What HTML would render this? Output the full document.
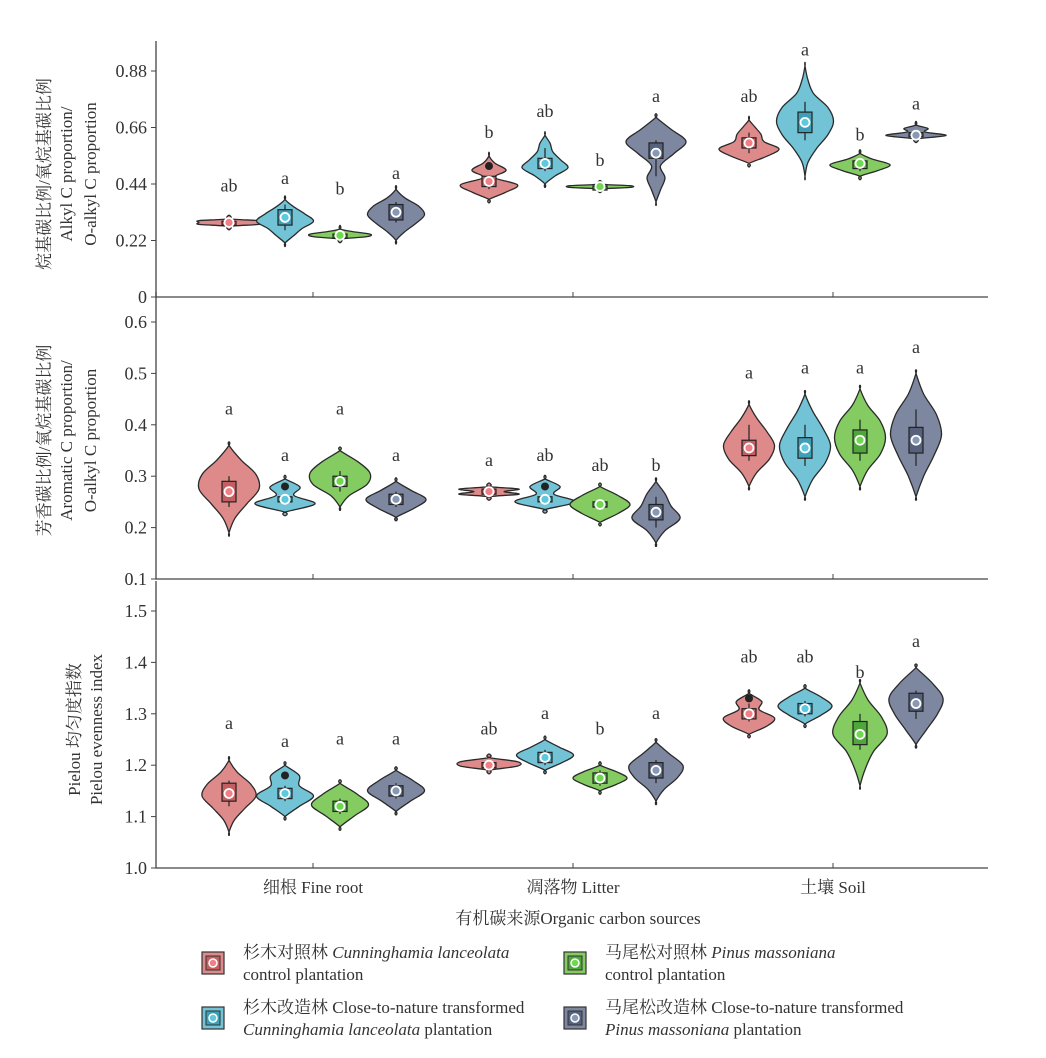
<!DOCTYPE html>
<html><head><meta charset="utf-8">
<style>
body{margin:0;background:#fff}
svg text{font-family:"Liberation Serif","Noto Serif CJK SC",serif;fill:#333}
</style></head><body>
<svg id="c" width="1046" height="1053" viewBox="0 0 1046 1053" xmlns="http://www.w3.org/2000/svg"></svg>
<script>
const categories=["细根 Fine root","凋落物 Litter","土壤 Soil"];
const groups=["C","CT","P","PT"];
// panel 1: Alkyl/O-alkyl ; each entry: [vmin,vmax,q1,med,q3,wlo,whi,dot]
const alkylStats=[
 [[0.275,0.305,0.285,0.29,0.295,0.285,0.295,null],[0.21,0.38,0.28,0.31,0.34,0.26,0.36,null],[0.225,0.265,0.235,0.24,0.245,0.235,0.25,null],[0.22,0.42,0.30,0.33,0.36,0.29,0.37,null]],
 [[0.38,0.55,0.43,0.45,0.47,0.42,0.47,0.51],[0.44,0.63,0.50,0.52,0.54,0.49,0.58,null],[0.42,0.44,0.428,0.43,0.432,0.428,0.432,null],[0.37,0.70,0.54,0.56,0.60,0.47,0.61,null]],
 [[0.52,0.69,0.58,0.60,0.62,0.56,0.64,null],[0.47,0.90,0.64,0.68,0.72,0.61,0.76,null],[0.47,0.56,0.50,0.52,0.53,0.49,0.53,null],[0.615,0.67,0.625,0.63,0.64,0.62,0.65,null]]];
const alkylDens=[
 [[1,1,1],[0.3,0.6,1,0.7,0.3],[0.9,1,0.4],[0.3,0.7,1,0.8,0.3]],
 [[0.6,1,0.2,0.6,0.2],[0.4,0.9,0.6,0.3,0.2],[1,1],[0.15,0.3,0.15,0.6,1,0.5]],
 [[0.6,1,0.5,0.4,0.2],[0.1,0.4,0.8,1,0.8,0.3,0.1],[0.6,1,0.4],[1,0.3,0.4]]];
const alkylWidth=[[1,0.95,1,0.95],[0.95,0.85,1,1],[1,0.95,1,1]];
const alkylLetters=[["ab","a","b","a"],["b","ab","b","a"],["ab","a","b","a"]];
const alkylLetterY=[[0.41,0.44,0.40,0.46],[0.62,0.70,0.51,0.76],[0.76,0.94,0.61,0.73]];
// panel 2: Aromatic/O-alkyl
const aromStats=[
 [[0.19,0.36,0.25,0.27,0.29,0.24,0.30,null],[0.23,0.295,0.25,0.255,0.26,0.25,0.26,0.28],[0.24,0.35,0.28,0.29,0.30,0.27,0.31,null],[0.22,0.29,0.245,0.255,0.265,0.24,0.27,null]],
 [[0.26,0.28,0.265,0.27,0.275,0.26,0.28,null],[0.235,0.295,0.25,0.255,0.26,0.25,0.26,0.28],[0.21,0.28,0.24,0.245,0.25,0.235,0.255,null],[0.17,0.29,0.215,0.23,0.245,0.20,0.26,null]],
 [[0.28,0.44,0.34,0.355,0.37,0.33,0.40,null],[0.26,0.46,0.335,0.355,0.375,0.32,0.40,null],[0.28,0.47,0.345,0.37,0.39,0.33,0.41,null],[0.26,0.50,0.345,0.37,0.395,0.32,0.43,null]]];
const aromDens=[
 [[0.2,0.6,1,0.9,0.4],[1,0.3,0.5],[0.3,0.9,1,0.6],[0.6,1,0.5]],
 [[1,0.5,1],[1,0.3,0.5],[0.6,1,0.6],[0.3,0.8,0.5,0.3]],
 [[0.3,0.8,1,0.7,0.3],[0.3,0.8,1,0.7,0.3],[0.3,0.8,1,0.8,0.3],[0.3,0.7,1,0.8,0.3]]];
const aromWidth=[[1,1,1,1],[1,1,1,1],[0.85,0.85,0.85,0.85]];
const aromLetters=[["a","a","a","a"],["a","ab","ab","b"],["a","a","a","a"]];
const aromLetterY=[[0.42,0.33,0.42,0.33],[0.32,0.33,0.31,0.31],[0.49,0.50,0.50,0.54]];
// panel 3: Pielou
const pielouStats=[
 [[1.07,1.21,1.13,1.145,1.165,1.12,1.17,null],[1.10,1.20,1.135,1.145,1.155,1.13,1.16,1.18],[1.08,1.165,1.11,1.12,1.13,1.105,1.135,null],[1.11,1.19,1.14,1.15,1.16,1.135,1.165,null]],
 [[1.19,1.215,1.195,1.20,1.205,1.195,1.205,null],[1.19,1.25,1.205,1.215,1.225,1.20,1.23,null],[1.15,1.20,1.165,1.175,1.185,1.16,1.19,null],[1.13,1.245,1.175,1.19,1.205,1.165,1.21,null]],
 [[1.26,1.34,1.29,1.30,1.31,1.285,1.32,1.33],[1.28,1.35,1.30,1.31,1.32,1.295,1.325,null],[1.16,1.36,1.24,1.26,1.285,1.23,1.30,null],[1.24,1.39,1.305,1.32,1.34,1.29,1.345,null]]];
const pielouDens=[
 [[0.2,0.6,1,0.8,0.3],[0.5,1,0.5,0.5],[0.5,1,0.6],[0.5,1,0.6]],
 [[1,1],[0.6,1,0.5],[0.6,1,0.6],[0.3,0.8,1,0.5]],
 [[0.7,1,0.4,0.5],[0.6,1,0.6],[0.2,0.5,1,0.8,0.3],[0.4,0.8,1,0.6]]];
const pielouWidth=[[0.9,0.95,0.95,0.95],[0.95,0.95,0.9,0.9],[0.85,0.9,0.9,0.9]];
const pielouLetters=[["a","a","a","a"],["ab","a","b","a"],["ab","ab","b","a"]];
const pielouLetterY=[[1.27,1.235,1.24,1.24],[1.26,1.29,1.26,1.29],[1.40,1.40,1.37,1.43]];
const alkylTicks=["0","0.22","0.44","0.66","0.88"];
const aromTicks=["0.1","0.2","0.3","0.4","0.5","0.6"];
const pielouTicks=["1.0","1.1","1.2","1.3","1.4","1.5"];

const fills=["#de8a8a","#72c3d6","#84cc62","#7d88a0"];
const boxF=["#c45e62","#3f9fb7","#4fa73c","#56627b"];
const dotF=["#f07f86","#5ec8df","#6ed94e","#8899b5"];
const NS="http://www.w3.org/2000/svg";
const svg=document.getElementById('c');
function mk(t,a,p){const e=document.createElementNS(NS,t);for(const k in a)e.setAttribute(k,a[k]);(p||svg).appendChild(e);return e;}
const X0=156,X1=988,catW=260,firstCat=313,offs=[-84,-28,27,83],HW=30;
function xCat(i){return firstCat+i*catW;}
function xV(i,j){return xCat(i)+offs[j];}

function smoothPath(pts){let d="M"+pts[0][0]+","+pts[0][1];for(let i=0;i<pts.length-1;i++){const p0=pts[Math.max(0,i-1)],p1=pts[i],p2=pts[i+1],p3=pts[Math.min(pts.length-1,i+2)];const c1=[p1[0]+(p2[0]-p0[0])/6,p1[1]+(p2[1]-p0[1])/6],c2=[p2[0]-(p3[0]-p1[0])/6,p2[1]-(p3[1]-p1[1])/6];d+="C"+c1[0].toFixed(1)+","+c1[1].toFixed(1)+" "+c2[0].toFixed(1)+","+c2[1].toFixed(1)+" "+p2[0].toFixed(1)+","+p2[1].toFixed(1);}return d;}

function panel(name,top,bot,vlo,vhi,ticks,tickVals,stats,dens,widths,letters,letY,ylabel,showX){
 const g=mk('g',{});
 
 const y=v=>bot-(v-vlo)/(vhi-vlo)*(bot-top);
 const ax=mk('path',{d:`M${X0},${top-30} V${bot} H${X1}`,stroke:'#444','stroke-width':1.3,fill:'none'},g);
 
 ticks.forEach((t,k)=>{const yy=y(tickVals[k]);
  mk('line',{x1:X0-5,x2:X0,y1:yy,y2:yy,stroke:'#444'},g);
  const tx=mk('text',{x:X0-9,y:yy+6,'text-anchor':'end','font-size':18},g);tx.textContent=t;
  });
 categories.forEach((c,i)=>{mk('line',{x1:xCat(i),x2:xCat(i),y1:bot-5,y2:bot,stroke:'#444'},g);
  if(showX){const tx=mk('text',{x:xCat(i),y:bot+25,'text-anchor':'middle','font-size':17},g);tx.textContent=c;
   }});
 stats.forEach((row,i)=>row.forEach((s,j)=>{
  const [vmin,vmax,q1,med,q3,wl,wh,dot]=s;const cx=xV(i,j);
  const d=[0].concat(dens[i][j]).concat([0]);const n=d.length-1;
  const L=[],R=[];
  d.forEach((w,k)=>{const v=vmin+(vmax-vmin)*k/n;const hw=w*HW*widths[i][j];L.push([cx-hw,y(v)]);R.push([cx+hw,y(v)]);});
  const tipB=[cx,y(vmin)+4],tipT=[cx,y(vmax)-4];
  const right=[tipB].concat(R).concat([tipT]);const left=[tipT].concat(L.slice().reverse()).concat([tipB]);
  const p=mk('path',{d:smoothPath(right)+smoothPath(left).replace(/^M[^C]*/,'')+'Z',fill:fills[j],stroke:'#2a2a2a','stroke-width':1.3},g);
  
  mk('line',{x1:cx,x2:cx,y1:y(wl),y2:y(wh),stroke:'#222','stroke-width':1.2},g);
  const bh=Math.max(y(q1)-y(q3),4);
  const b=mk('rect',{x:cx-7,y:y(q3),width:14,height:bh,fill:boxF[j],stroke:'#222','stroke-width':1.2},g);
  
  if(dot!==null){const dd=mk('circle',{cx:cx,cy:y(dot),r:4,fill:'#222'},g);}
  const m=mk('circle',{cx:cx,cy:y(med),r:4.5,fill:dotF[j],stroke:'#fff','stroke-width':1.8},g);
  
  const lt=mk('text',{x:cx,y:y(letY[i][j]),'text-anchor':'middle','font-size':18},g);lt.textContent=letters[i][j];
  
 }));
 const cy=(top+bot)/2-10;
 ylabel.forEach((l,k)=>{const xx=ylabel.length===3?[50,72,96][k]:[80,102][k];
  const t=mk('text',{x:xx,y:cy,'text-anchor':'middle','font-size':17,transform:`rotate(-90 ${xx} ${cy})`},g);t.textContent=l;
  });
}
panel('panel-alkyl',71,297,0,0.88,alkylTicks,[0,0.22,0.44,0.66,0.88],alkylStats,alkylDens,alkylWidth,alkylLetters,alkylLetterY,["烷基碳比例/氧烷基碳比例","Alkyl C proportion/","O-alkyl C proportion"],false);
panel('panel-aromatic',322,579,0.1,0.6,aromTicks,[0.1,0.2,0.3,0.4,0.5,0.6],aromStats,aromDens,aromWidth,aromLetters,aromLetterY,["芳香碳比例/氧烷基碳比例","Aromatic C proportion/","O-alkyl C proportion"],false);
panel('panel-pielou',611,868,1.0,1.5,pielouTicks,[1.0,1.1,1.2,1.3,1.4,1.5],pielouStats,pielouDens,pielouWidth,pielouLetters,pielouLetterY,["Pielou 均匀度指数","Pielou evenness index"],true);
const xt=mk('text',{x:578,y:924,'text-anchor':'middle','font-size':17});xt.textContent="有机碳来源Organic carbon sources";

const leg=[[213,963,"杉木对照林 <tspan font-style='italic'>Cunninghamia lanceolata</tspan>","control plantation"],
 [575,963,"马尾松对照林 <tspan font-style='italic'>Pinus massoniana</tspan>","control  plantation"],
 [213,1018,"杉木改造林 Close-to-nature transformed","<tspan font-style='italic'>Cunninghamia lanceolata</tspan> plantation"],
 [575,1018,"马尾松改造林 Close-to-nature transformed","<tspan font-style='italic'>Pinus massoniana</tspan> plantation"]];
const legOrder=[0,2,1,3];
leg.forEach((l,k)=>{const j=legOrder[k];const g=mk('g',{});
 
 mk('rect',{x:l[0]-11,y:l[1]-11,width:22,height:22,fill:fills[j],stroke:'#333','stroke-width':1.2},g);
 mk('rect',{x:l[0]-7,y:l[1]-7,width:14,height:14,fill:boxF[j],stroke:'#333'},g);
 mk('circle',{cx:l[0],cy:l[1],r:4,fill:dotF[j],stroke:'#fff','stroke-width':1.5},g);
 const t1=mk('text',{x:l[0]+30,y:l[1]-5,'font-size':17},g);t1.innerHTML=l[2];
 const t2=mk('text',{x:l[0]+30,y:l[1]+17,'font-size':17},g);t2.innerHTML=l[3];});
</script>
</body></html>
